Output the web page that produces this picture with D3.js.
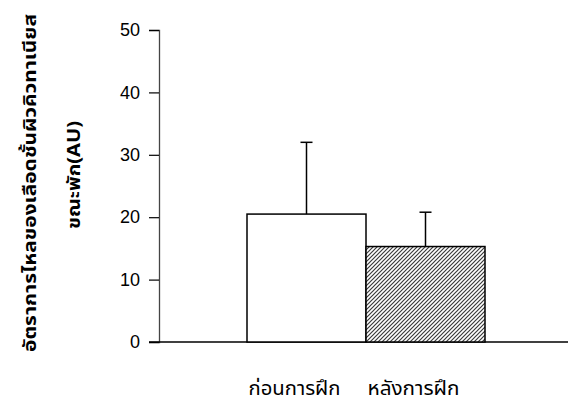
<!DOCTYPE html>
<html>
<head>
<meta charset="utf-8">
<script src="https://cdn.jsdelivr.net/npm/d3@7"></script>
<style>
  html, body { margin: 0; padding: 0; background: #fff; }
  svg { display: block; }
</style>
</head>
<body>
<svg id="chart" width="568" height="406"></svg>
<script>
// Cutaneous blood flow at rest, before vs after training
const categories = ["ก่อนการฝึก", "หลังการฝึก"];
const means = [20.5, 15.3];
const sds = [11.5, 5.5];
const yTicks = [0, 10, 20, 30, 40, 50];
const yTitleLines = ["อัตราการไหลของเลือดชั้นผิวคิวทาเนียส", "ขณะพัก(AU)"];

const svg = d3.select("#chart");
const thaiFont = "Tahoma, 'Noto Sans Thai', 'Noto Sans', 'DejaVu Sans', sans-serif";

const y = d3.scaleLinear().domain([0, 50]).range([342, 30]);
const x = d3.scaleBand().domain(categories).range([247, 485]).padding(0);

// hatch pattern for the after-training bar
const defs = svg.append("defs");
const pat = defs.append("pattern")
  .attr("id", "hatch")
  .attr("patternUnits", "userSpaceOnUse")
  .attr("width", 4).attr("height", 4);
pat.append("rect").attr("width", 4).attr("height", 4).attr("fill", "#fff");
pat.append("path")
  .attr("d", "M-1,1 l2,-2 M0,4 l4,-4 M3,5 l2,-2")
  .attr("stroke", "#3a3a3a").attr("stroke-width", 1.2);

// y axis
const yAxis = d3.axisLeft(y).tickValues(yTicks).tickSizeOuter(0).tickSize(10).tickPadding(9);
const gy = svg.append("g").attr("transform", "translate(159,0)").call(yAxis);
gy.select(".domain").attr("stroke", "#444").attr("stroke-width", 1.3);
gy.selectAll(".tick line").attr("stroke", "#000").attr("stroke-width", 1.2);
gy.selectAll(".tick text")
  .attr("font-family", "Arial, 'Liberation Sans', sans-serif")
  .attr("font-size", 18).attr("fill", "#000");

// x baseline
svg.append("line")
  .attr("x1", 149).attr("x2", 568)
  .attr("y1", y(0)).attr("y2", y(0))
  .attr("stroke", "#000").attr("stroke-width", 1.5);

// bars
svg.selectAll("rect.bar")
  .data(categories)
  .join("rect")
  .attr("class", "bar")
  .attr("x", d => x(d))
  .attr("width", x.bandwidth())
  .attr("y", (d, i) => y(means[i]))
  .attr("height", (d, i) => y(0) - y(means[i]))
  .attr("fill", (d, i) => i === 0 ? "#fff" : "url(#hatch)")
  .attr("stroke", "#000")
  .attr("stroke-width", 1.5);

// error bars (upper only)
const cap = 12;
const eb = svg.selectAll("g.err").data(categories).join("g").attr("class", "err");
eb.append("line")
  .attr("x1", d => x(d) + x.bandwidth() / 2)
  .attr("x2", d => x(d) + x.bandwidth() / 2)
  .attr("y1", (d, i) => y(means[i]))
  .attr("y2", (d, i) => y(means[i] + sds[i]))
  .attr("stroke", "#000").attr("stroke-width", 1.5);
eb.append("line")
  .attr("x1", d => x(d) + x.bandwidth() / 2 - cap / 2)
  .attr("x2", d => x(d) + x.bandwidth() / 2 + cap / 2)
  .attr("y1", (d, i) => y(means[i] + sds[i]))
  .attr("y2", (d, i) => y(means[i] + sds[i]))
  .attr("stroke", "#000").attr("stroke-width", 1.5);

// category labels
svg.selectAll("text.cat")
  .data(categories)
  .join("text")
  .attr("class", "cat")
  .attr("x", d => x(d) + x.bandwidth() / 2 - 12)
  .attr("y", 395)
  .attr("text-anchor", "middle")
  .attr("font-family", thaiFont)
  .attr("font-size", 20)
  .attr("textLength", 92)
  .attr("lengthAdjust", "spacingAndGlyphs")
  .attr("fill", "#000")
  .text(d => d);

// y title, two rotated lines
svg.selectAll("text.ytitle")
  .data(yTitleLines)
  .join("text")
  .attr("class", "ytitle")
  .attr("transform", (d, i) => `translate(${i === 0 ? 36 : 80},${i === 0 ? 183 : 175}) rotate(-90)`)
  .attr("text-anchor", "middle")
  .attr("font-family", thaiFont)
  .attr("font-weight", "bold")
  .attr("font-size", 18)
  .attr("textLength", (d, i) => i === 0 ? 338 : 108)
  .attr("lengthAdjust", "spacingAndGlyphs")
  .attr("fill", "#000")
  .text(d => d);
</script>
</body>
</html>
